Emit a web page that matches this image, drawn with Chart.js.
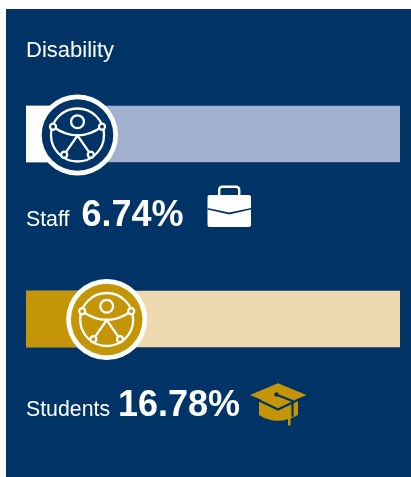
<!DOCTYPE html>
<html><head><meta charset="utf-8">
<style>
html,body{margin:0;padding:0;background:#fff;width:411px;height:477px;overflow:hidden}
#panel{position:absolute;left:6px;top:9px;width:405px;height:468px;background:#003366}
canvas{position:absolute;left:0;top:0}
</style>
<script src="https://cdn.jsdelivr.net/npm/chart.js@4"></script>
</head><body><div id="panel"></div><canvas id="c" width="411" height="477"></canvas>
<script>
const chartTitle = "Disability";
const categories = ["Staff", "Students"];
const shareValues = [6.74, 16.78];
const trackValues = [100, 100];
const fillColors = ["#ffffff", "#c49506"];
const trackColors = ["#a2b0d1", "#eed9b0"];

const NAVY = "#003366", WHITE = "#ffffff", GOLD = "#c49506";
const FONT = '"Liberation Sans", Arial, sans-serif';

function person(ctx, cx, cy, bg) {
  ctx.save();
  ctx.strokeStyle = WHITE; ctx.lineWidth = 2.3; ctx.lineCap = "round";
  ctx.beginPath(); ctx.arc(cx, cy, 26.5, 0, Math.PI * 2); ctx.stroke();
  ctx.beginPath(); ctx.arc(cx, cy - 13.3, 6.4, 0, Math.PI * 2); ctx.stroke();
  ctx.beginPath();
  ctx.moveTo(cx - 24.5, cy - 8.3);
  ctx.quadraticCurveTo(cx, cy + 9, cx + 24.5, cy - 8.3);
  ctx.stroke();
  ctx.beginPath();
  ctx.moveTo(cx - 13.3, cy + 19.7); ctx.lineTo(cx, cy + 0.5); ctx.lineTo(cx + 13.3, cy + 19.7);
  ctx.stroke();
  [[-24.5, -8.3], [24.5, -8.3], [-13.3, 19.7], [13.3, 19.7]].forEach(p => {
    ctx.beginPath(); ctx.arc(cx + p[0], cy + p[1], 3, 0, Math.PI * 2);
    ctx.fillStyle = bg; ctx.fill(); ctx.stroke();
  });
  ctx.restore();
}
function badge(ctx, cx, cy, bg) {
  ctx.beginPath(); ctx.arc(cx, cy, 40.5, 0, Math.PI * 2); ctx.fillStyle = WHITE; ctx.fill();
  ctx.beginPath(); ctx.arc(cx, cy, 35.8, 0, Math.PI * 2); ctx.fillStyle = bg; ctx.fill();
  person(ctx, cx, cy, bg);
}
function briefcase(ctx) {
  ctx.save();
  ctx.strokeStyle = WHITE; ctx.lineWidth = 2.4;
  ctx.beginPath(); ctx.roundRect(219.2, 186.8, 20, 12, 3); ctx.stroke();
  ctx.fillStyle = WHITE;
  ctx.beginPath(); ctx.roundRect(207.5, 195, 43.5, 32, 2); ctx.fill();
  ctx.fillStyle = NAVY;
  ctx.beginPath();
  ctx.moveTo(207.5, 208); ctx.lineTo(229.2, 212.4); ctx.lineTo(251, 208);
  ctx.lineTo(251, 209.6); ctx.lineTo(229.2, 214.6); ctx.lineTo(207.5, 209.6);
  ctx.closePath(); ctx.fill();
  ctx.restore();
}
function gradCap(ctx) {
  ctx.save();
  ctx.fillStyle = GOLD;
  ctx.beginPath();
  ctx.moveTo(259, 400); ctx.lineTo(259, 415);
  ctx.quadraticCurveTo(277, 426.5, 298, 415);
  ctx.lineTo(298, 400); ctx.closePath(); ctx.fill();
  ctx.strokeStyle = NAVY; ctx.lineWidth = 2.2;
  ctx.beginPath();
  ctx.moveTo(252, 397); ctx.lineTo(278, 409.5); ctx.lineTo(304, 397);
  ctx.stroke();
  ctx.fillStyle = GOLD;
  ctx.beginPath();
  ctx.moveTo(250, 395); ctx.lineTo(278, 383.3); ctx.lineTo(306.5, 395); ctx.lineTo(278, 407);
  ctx.closePath(); ctx.fill();
  ctx.strokeStyle = NAVY; ctx.lineWidth = 2.2; ctx.lineCap = "round";
  ctx.beginPath(); ctx.moveTo(276, 394.5); ctx.lineTo(292.5, 401); ctx.lineTo(292.5, 416); ctx.stroke();
  ctx.fillStyle = NAVY;
  ctx.beginPath(); ctx.arc(276.5, 394.5, 2.2, 0, Math.PI * 2); ctx.fill();
  ctx.strokeStyle = GOLD; ctx.lineWidth = 2.6;
  ctx.beginPath(); ctx.moveTo(289.3, 416); ctx.lineTo(289.3, 424.5); ctx.stroke();
  ctx.restore();
}

const overlay = {
  id: "overlay",
  afterDatasetsDraw(chart) {
    const ctx = chart.ctx;
    const bars = chart.getDatasetMeta(0).data;
    ctx.save();
    ctx.textBaseline = "alphabetic"; ctx.textAlign = "left"; ctx.fillStyle = WHITE;
    ctx.font = "22px " + FONT;
    ctx.fillText(chartTitle, 26, 57);
    badge(ctx, 77.5, bars[0].y + 1, NAVY);
    badge(ctx, 106.7, bars[1].y + 0.5, GOLD);
    ctx.fillStyle = WHITE;
    const numberX = [81.5, 118];
    categories.forEach((name, i) => {
      const base = bars[i].y + [91.7, 96.7][i];
      ctx.font = "21.3px " + FONT;
      ctx.fillText(name, 26, base);
      ctx.font = "bold 36px " + FONT;
      ctx.fillText(shareValues[i].toFixed(2) + "%", numberX[i], base);
    });
    briefcase(ctx);
    gradCap(ctx);
    ctx.restore();
  }
};

new Chart(document.getElementById("c"), {
  type: "bar",
  plugins: [overlay],
  data: {
    labels: categories,
    datasets: [
      { label: "Share", data: shareValues, backgroundColor: fillColors, barThickness: 56, grouped: false },
      { label: "Track", data: trackValues, backgroundColor: trackColors, barThickness: 56, grouped: false }
    ]
  },
  options: {
    indexAxis: "y",
    responsive: false,
    animation: false,
    layout: { padding: { left: 26, right: 11, top: 41.5, bottom: 65.5 } },
    plugins: { legend: { display: false }, title: { display: false }, tooltip: { enabled: false } },
    scales: {
      x: { display: false, min: 0, max: 100 },
      y: { display: false }
    }
  }
});
</script></body></html>
